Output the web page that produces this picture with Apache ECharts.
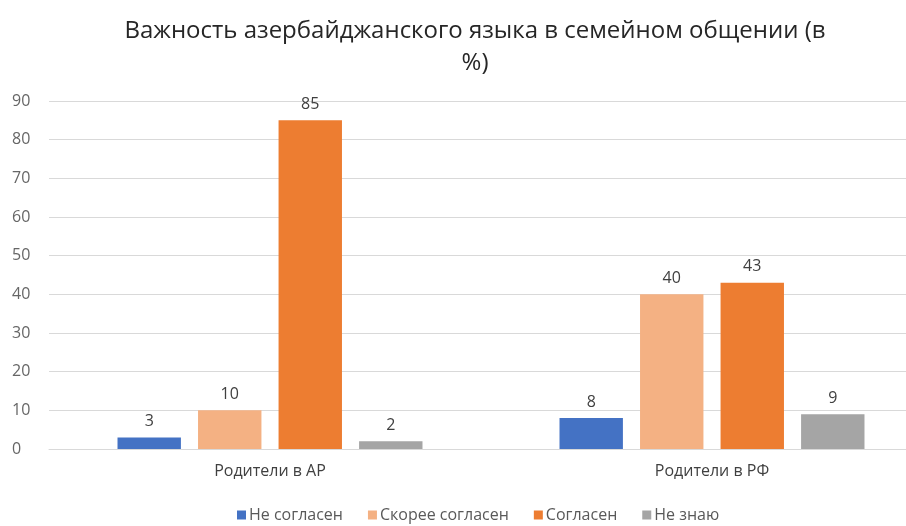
<!DOCTYPE html>
<html><head><meta charset="utf-8">
<script src="https://cdn.jsdelivr.net/npm/echarts@6/dist/echarts.min.js"></script>
<style>html,body{margin:0;padding:0;background:#fff;overflow:hidden;width:906px;height:526px}#c{width:934px;height:526px}</style>
</head><body><div id="c"></div>
<script>
const categories = ['Родители в АР', 'Родители в РФ'];
const seriesNames = ['Не согласен', 'Скорее согласен', 'Согласен', 'Не знаю'];
const neSoglasen = [3, 8];
const skoreeSoglasen = [10, 40];
const soglasen = [85, 43];
const neZnayu = [2, 9];
const colors = ['#4472C4', '#F4B183', '#ED7D31', '#A5A5A5'];
const values = [neSoglasen, skoreeSoglasen, soglasen, neZnayu];
const FONT = '"Open Sans", "Noto Sans", sans-serif';

const chart = echarts.init(document.getElementById('c'), null, {renderer: 'canvas'});
chart.setOption({
  animation: false,
  title: {
    text: 'Важность азербайджанского языка в семейном общении (в\n%)',
    left: 470, top: 10, textAlign: 'center',
    textStyle: {fontFamily: FONT, fontSize: 24, fontWeight: 'normal', color: '#262626', lineHeight: 32}
  },
  legend: {
    top: 502, left: 232,
    itemWidth: 9, itemHeight: 9, itemGap: 25,
    icon: 'rect',
    textStyle: {fontFamily: FONT, fontSize: 16, color: '#595959', padding: [0, 0, 0, -2]},
    data: seriesNames
  },
  grid: {left: 49, width: 884, top: 101, height: 348, containLabel: false},
  xAxis: {
    type: 'category', data: categories,
    axisLine: {lineStyle: {color: '#D9D9D9'}},
    axisTick: {show: false},
    axisLabel: {fontFamily: FONT, fontSize: 16, color: '#404040', margin: 14}
  },
  yAxis: {
    type: 'value', min: 0, max: 90, interval: 10,
    axisLine: {show: false}, axisTick: {show: false},
    splitLine: {lineStyle: {color: '#D9D9D9'}},
    axisLabel: {fontFamily: FONT, fontSize: 16, color: '#666666', margin: 37, align: 'left'}
  },
  series: values.map((v, i) => ({
    name: seriesNames[i], type: 'bar', data: v,
    barGap: '27%', barCategoryGap: '31%',
    itemStyle: {color: colors[i]},
    label: {show: true, position: 'top', distance: 8, fontFamily: FONT, fontSize: 16, color: '#404040'}
  }))
});
</script></body></html>
